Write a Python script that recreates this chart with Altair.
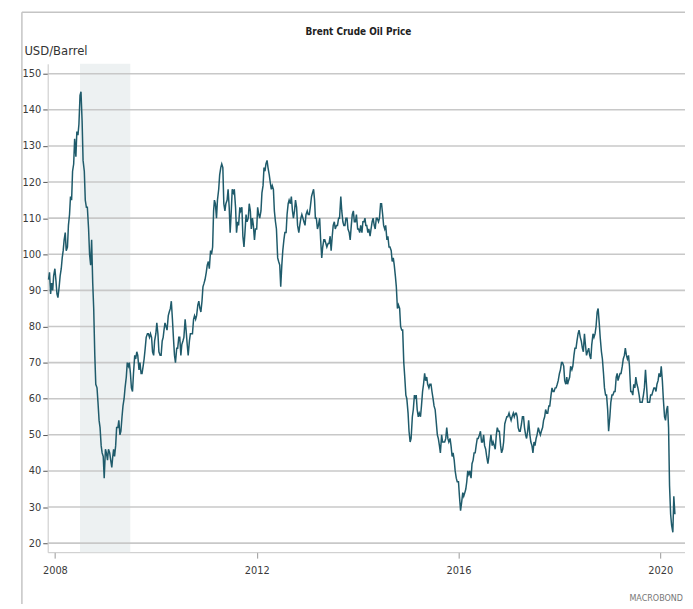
import altair as alt
import pandas as pd

# ---- data (weekly-ish samples: days 1, 8, 16, 23 of each month) ----
b2007 = [93, 95,  89, 92, 90, 94]  # from 16 Nov 2007
b2008 = [96, 93, 89, 88,  91, 94, 96, 99,  101, 104, 106, 101,  102, 108, 111, 116,
         115, 123, 125, 132,  127, 134, 133, 136,  144, 145, 137, 126,  123, 115, 113, 113,
         107, 100, 97, 104,  92, 85, 72, 64,  63, 59, 54, 52,  47, 45, 44, 38]
b2009 = [46, 45, 43, 46,  45, 43, 41, 44,  46, 44, 47, 52,  52, 54, 50, 51,
         55, 58, 60, 63,  66, 70, 69, 70,  67, 63, 62, 67,  72, 71, 73, 72,
         68, 70, 67, 67,  69, 71, 74, 77,  78, 78, 77, 78,  77, 73, 72, 76]
b2010 = [78, 81, 78, 73,  72, 72, 76, 77,  79, 81, 80, 79,  83, 84, 85, 87,
         82, 77, 72, 70,  74, 74, 77, 77,  72, 75, 76, 77,  82, 79, 75, 72,
         76, 78, 78, 78,  82, 83, 82, 83,  86, 87, 85, 84,  87, 91, 92, 93]
b2011 = [95, 97, 98, 96,  101, 100, 102, 112,  115, 114, 110, 115,  118, 122, 124, 125,
         124, 114, 112, 114,  115, 118, 113, 106,  112, 118, 117, 118,  113, 106, 109, 108,
         113, 112, 113, 105,  102, 106, 111, 109,  110, 114, 112, 107,  110, 108, 104, 107]
b2012 = [107, 113, 111, 110,  112, 117, 119, 124,  123, 125, 126, 124,  122, 120, 118, 119,
         118, 112, 109, 107,  99, 98, 97, 91,  97, 101, 104, 106,  106, 111, 114, 115,
         114, 116, 112, 110,  112, 115, 113, 108,  106, 108, 110, 111,  110, 109, 108, 111]
b2013 = [112, 111, 111, 113,  116, 117, 118, 115,  110, 110, 107, 108,  110, 104, 99, 102,
         104, 104, 103, 102,  103, 103, 105, 101,  105, 108, 109, 107,  108, 108, 110, 110,
         116, 112, 109, 108,  108, 110, 110, 107,  106, 104, 108, 111,  112, 109, 109, 111]
b2014 = [107, 107, 106, 108,  106, 109, 109, 110,  108, 108, 106, 107,  105, 107, 109, 110,
         108, 107, 110, 110,  109, 110, 114, 114,  111, 108, 107, 108,  104, 105, 102, 102,
         101, 98, 99, 97,  94, 91, 85, 86,  85, 80, 79, 79,  70, 66, 61, 60]
b2015 = [56, 51, 48, 49,  55, 57, 61, 60,  61, 57, 55, 56,  55, 58, 62, 64,
         67, 65, 66, 64,  63, 64, 64, 62,  60, 58, 57, 54,  50, 49, 47, 45,
         50, 48, 48, 48,  49, 52, 49, 48,  49, 47, 44, 45,  43, 40, 38, 37]
b2016 = [37, 33, 29, 31,  34, 33, 34, 35,  37, 40, 39, 40,  38, 42, 43, 45,
         45, 47, 49, 49,  50, 51, 48, 48,  50, 47, 46, 44,  42, 44, 48, 50,
         47, 48, 47, 46,  50, 52, 51, 51,  47, 45, 46, 48,  53, 54, 55, 55]
b2017 = [56, 55, 54, 55,  56, 55, 56, 56,  55, 52, 51, 51,  53, 55, 55, 52,
         50, 49, 51, 54,  50, 48, 47, 45,  48, 47, 49, 50,  52, 51, 50, 51,
         52, 54, 55, 57,  56, 56, 58, 58,  61, 63, 62, 62,  63, 63, 64, 65]
b2018 = [67, 68, 70, 70,  69, 65, 64, 66,  64, 65, 66, 69,  68, 69, 72, 74,
         74, 76, 78, 79,  77, 76, 74, 73,  78, 75, 72, 73,  74, 72, 71, 75,
         78, 77, 78, 80,  84, 85, 81, 77,  73, 71, 67, 63,  61, 61, 57, 51]
b2019 = [55, 59, 61, 61,  62, 62, 66, 67,  65, 66, 67, 67,  69, 71, 72, 74,
         72, 71, 72, 69,  62, 62, 61, 64,  63, 66, 64, 63,  61, 59, 59, 59,
         61, 63, 68, 64,  59, 59, 59, 61,  61, 62, 63, 63,  62, 64, 65, 67]
b2020 = [66, 69, 65, 60,  55, 54, 57, 58,  52, 36, 28, 25,  23, 33, 28]

recession_start = ["2008-07-01"]
recession_end = ["2009-06-30"]
y_ticks = [20, 30, 40, 50, 60, 70, 80, 90, 100, 110, 120, 130, 140, 150]
x_ticks = [2008, 2012, 2016, 2020]
title_text = "Brent Crude Oil Price"
source_text = "MACROBOND"

DAYS = [1, 8, 16, 23]


def make_dates(year, start_month, start_slot, count):
    out, m, s = [], start_month, start_slot
    while len(out) < count:
        out.append(pd.Timestamp(year, m, DAYS[s]))
        s += 1
        if s == 4:
            s, m = 0, m + 1
    return out


series = [(2007, 11, 2, b2007)] + [
    (y, 1, 0, v) for y, v in zip(range(2008, 2020),
                                 [b2008, b2009, b2010, b2011, b2012, b2013,
                                  b2014, b2015, b2016, b2017, b2018, b2019])
] + [(2020, 1, 0, b2020)]

dates, prices = [], []
for year, m0, s0, vals in series:
    dates += make_dates(year, m0, s0, len(vals))
    prices += vals

df = pd.DataFrame({"date": dates, "price": prices})
shade_df = pd.DataFrame({"date": pd.to_datetime(recession_start),
                         "date2": pd.to_datetime(recession_end)})
grid_df = pd.DataFrame({"price": y_ticks})
one = pd.DataFrame({"k": [0]})

W, H = 642, 492
FONT = "DejaVu Sans Condensed, Liberation Sans, sans-serif"

xscale = alt.Scale(domain=["2007-11-10", "2020-06-28"])
yscale = alt.Scale(domain=[17.5, 152.75], nice=False, zero=False)

x_axis = alt.Axis(title=None, format="%Y",
                  values=[alt.DateTime(year=y, month=1, date=1) for y in x_ticks],
                  grid=False, tickSize=6, tickColor="#999999",
                  domainColor="#c8c8c8", labelPadding=6, labelFontSize=11)
y_axis = alt.Axis(title="USD/Barrel", values=y_ticks, grid=False,
                  labelOverlap=False, labelFontSize=11,
                  tickSize=5, tickColor="#555555", domainColor="#c8c8c8",
                  labelPadding=2, titleAngle=0, titleAlign="left",
                  titleX=-24, titleY=-9, titleBaseline="alphabetic",
                  titleFontWeight="normal", titleFontSize=13,
                  titleColor="#333333")

shade = alt.Chart(shade_df).mark_rect(color="#edf1f2").encode(
    x=alt.X("date:T", scale=xscale, axis=x_axis),
    x2="date2:T",
)

grid = alt.Chart(grid_df).mark_rule(color="#c8c8c8", strokeWidth=1.6).encode(
    y=alt.Y("price:Q", scale=yscale, axis=y_axis)
)

line = alt.Chart(df).mark_line(color="#1f5b6b", strokeWidth=1.5).encode(
    x=alt.X("date:T", scale=xscale, axis=x_axis),
    y=alt.Y("price:Q", scale=yscale, axis=y_axis),
)

frame_v = alt.Chart(one).mark_rule(color="#c4c4c4", strokeWidth=1.5).encode(
    x=alt.value(-26), y=alt.value(-52), y2=alt.value(H + 60)
)
frame_h = alt.Chart(one).mark_rule(color="#c4c4c4", strokeWidth=1.5).encode(
    x=alt.value(-26), x2=alt.value(W + 20), y=alt.value(-52)
)
title = alt.Chart(one).mark_text(align="center", baseline="alphabetic", fontSize=10,
                                 fontWeight="bold", color="#222222", font=FONT).encode(
    x=alt.value(W / 2 - 8), y=alt.value(-29), text=alt.value(title_text)
)
brand = alt.Chart(one).mark_text(align="right", baseline="middle", fontSize=9,
                                 color="#777777", font=FONT).encode(
    x=alt.value(W - 2), y=alt.value(H + 46), text=alt.value(source_text)
)

chart = alt.layer(shade, grid, line, frame_v, frame_h, title, brand).properties(
    width=W, height=H,
    autosize=alt.AutoSizeParams(type="none"),
    padding={"left": 40, "top": 54, "right": 0, "bottom": 50},
).configure_view(stroke=None).configure_axis(
    labelFont=FONT, titleFont=FONT, labelColor="#3a3a3a"
)

chart.save("out.html", embed_options={"renderer": "svg", "actions": False})
